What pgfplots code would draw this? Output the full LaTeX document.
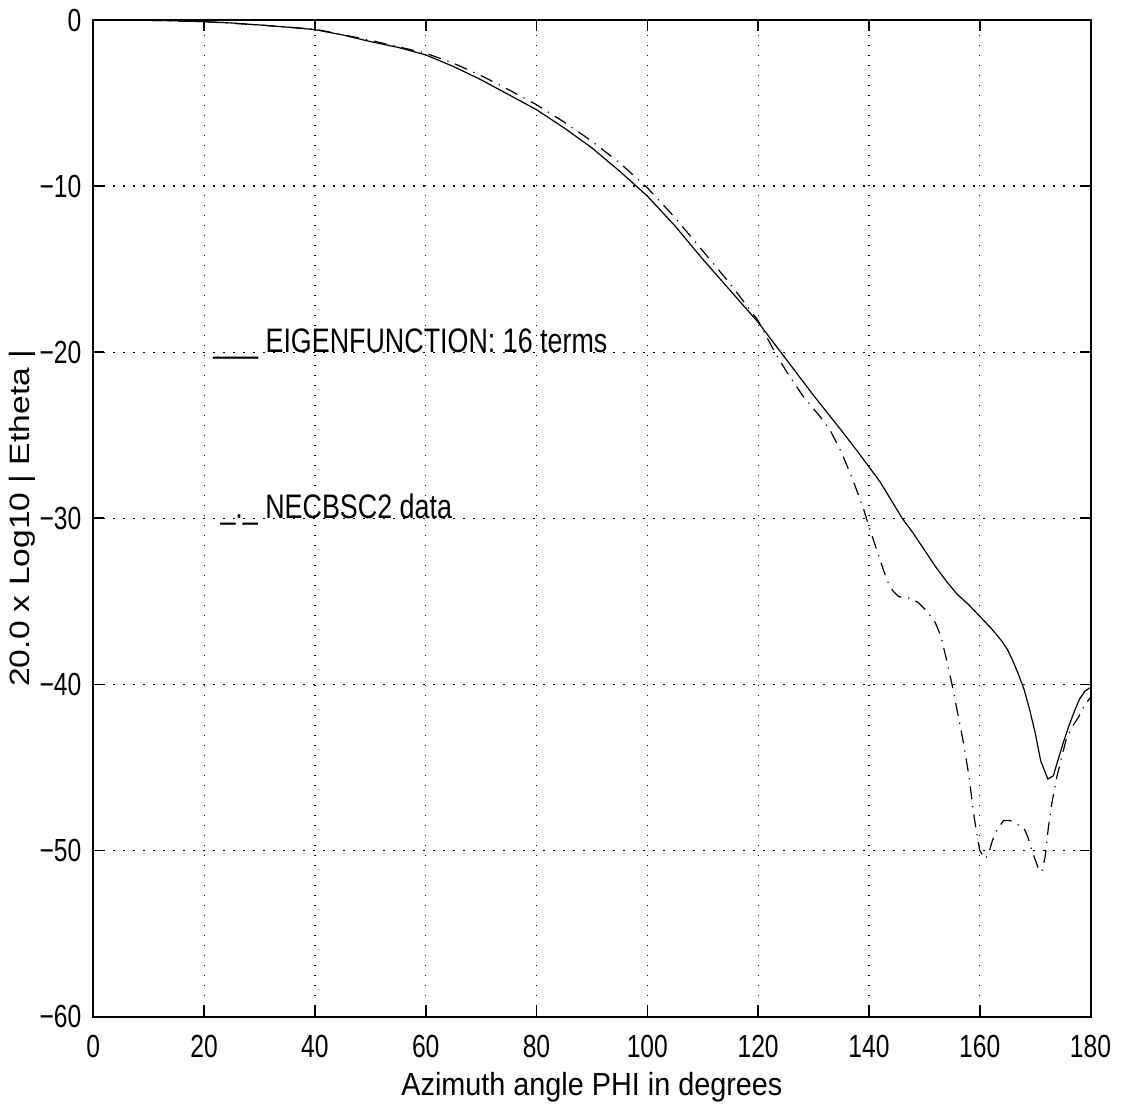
\documentclass[border=0pt]{standalone}
\usepackage{fontspec}
\setmainfont{Liberation Sans}
\newfontfamily\condfont{Liberation Sans}[FakeStretch=0.77]
\newfontfamily\legfont{Liberation Sans}[FakeStretch=0.79]
\newfontfamily\xlabfont{Liberation Sans}[FakeStretch=0.9]
\newfontfamily\ylabfont{Liberation Sans}[FakeStretch=1.2]
\usepackage{pgfplots}
\pgfplotsset{compat=1.18}
\begin{document}
\begin{tikzpicture}
\begin{axis}[
  scale only axis, width=498.6bp, height=498.25bp,
  xmin=0, xmax=180, ymin=-60, ymax=0,
  xtick={0,20,...,180}, ytick={-60,-50,...,0},
  xticklabels={0,20,40,60,80,100,120,140,160,180},
  yticklabels={−60,−50,−40,−30,−20,−10,0},
  grid=major,
  major grid style={black, line width=0.6bp, dash pattern=on 0.6bp off 4.4bp},
  axis line style={line width=1bp},
  major tick style={black, line width=0.8bp}, major tick length=5.5bp,
  xticklabel style={font=\condfont\fontsize{16bp}{16bp}\selectfont, anchor=north, inner sep=0pt, yshift=-9.25bp},
  yticklabel style={font=\condfont\fontsize{16bp}{16bp}\selectfont, anchor=east, inner sep=0pt, xshift=-5.8bp},
  xlabel={Azimuth angle PHI in degrees},
  xlabel style={font=\xlabfont\fontsize{16bp}{16bp}\selectfont, at={(axis description cs:0.5,0)}, anchor=base, inner sep=0pt, yshift=-39.25bp},
  ylabel={20.0 x Log10 | Etheta |},
  ylabel style={font=\ylabfont\fontsize{14bp}{14bp}\selectfont, at={(axis description cs:0,0.5)}, anchor=center, inner sep=0pt, yshift=35.5bp},
  clip=false,
]
\coordinate (sw) at (rel axis cs:0,0);
\coordinate (ne) at (rel axis cs:1,1);
% EIGENFUNCTION: 16 terms
\addplot[black, line width=0.6bp] coordinates {
(0,0) (5,0) (10,-0.02) (15,-0.05) (20,-0.1) (25,-0.18) (30,-0.3) (35,-0.43)
(40,-0.58) (45,-0.9) (50,-1.3) (55,-1.65) (60,-2.1) (65,-2.8) (70,-3.6)
(75,-4.5) (80,-5.4) (85,-6.5) (90,-7.7) (95,-9.1) (100,-10.6) (105,-12.4)
(110,-14.4) (115,-16.3) (120,-18.2) (125,-20.4) (130,-22.6) (135,-24.7)
(138,-26.0) (140,-26.9) (142,-27.8) (144,-28.9) (146,-30.0) (148,-30.9)
(150,-31.9) (152,-32.9) (154,-33.8) (156,-34.6) (158,-35.2) (160,-35.9)
(162,-36.6) (164,-37.4) (165,-37.9) (166,-38.6) (167,-39.4) (168,-40.3)
(169,-41.5) (170,-42.9) (171,-44.6) (172.3,-45.7) (173.3,-45.5) (174,-44.7)
(175,-43.6) (176,-42.6) (177,-41.7) (178,-40.9) (179,-40.4) (180,-40.2)
};
% NECBSC2 data
\addplot[black, line width=0.6bp, dash pattern=on 6.5bp off 3.5bp on 0.6bp off 3.5bp] coordinates {
(0,0) (10,-0.02) (20,-0.1) (30,-0.3) (40,-0.55) (50,-1.22) (60,-2.0)
(65,-2.6) (70,-3.35) (75,-4.2) (80,-5.1) (85,-6.15) (90,-7.3) (95,-8.6)
(100,-10.1) (105,-11.9) (110,-13.9) (115,-15.9) (120,-18.1) (123,-20.0)
(125,-21.1) (128,-22.6) (131,-23.8) (133,-24.7) (135,-26.0) (137,-27.6)
(139,-29.4) (140,-30.5) (141.5,-32.0) (142.6,-33.1) (143.5,-33.9) (144.4,-34.4)
(145.3,-34.7) (146.2,-34.8) (147.5,-34.8) (149,-35.1) (150.5,-35.6) (152,-36.3)
(153,-37.1) (154,-38.5) (155,-40.0) (156,-41.7) (157,-43.4) (158,-45.4)
(159,-48.0) (160,-50.0) (160.9,-50.5) (161.5,-50.3) (162.3,-49.4) (163.1,-48.8)
(164.3,-48.2) (165.5,-48.2) (166.5,-48.4) (167.9,-48.6) (168.7,-49.2) (169.4,-50.0)
(170.5,-51.0) (171.2,-51.3) (171.8,-50.4) (172.4,-48.6) (173,-47.2) (173.9,-45.6)
(175,-44.1) (175.7,-43.2) (176.8,-42.5) (177.8,-42.0) (179,-41.2) (180,-40.8)
};
\node[anchor=base west, inner sep=0pt, font=\legfont\fontsize{17bp}{17bp}\selectfont] at (axis cs:21.6,-20) {\_\_\_ EIGENFUNCTION: 16 terms};
\node[anchor=base west, inner sep=0pt, font=\legfont\fontsize{17bp}{17bp}\selectfont] at (axis cs:22.9,-30) {\_.\_ NECBSC2 data};
\end{axis}
\pgfresetboundingbox
\path ([shift={(-46.65bp,-45.25bp)}]sw) rectangle ([shift={(16.25bp,10bp)}]ne);
\end{tikzpicture}
\end{document}
